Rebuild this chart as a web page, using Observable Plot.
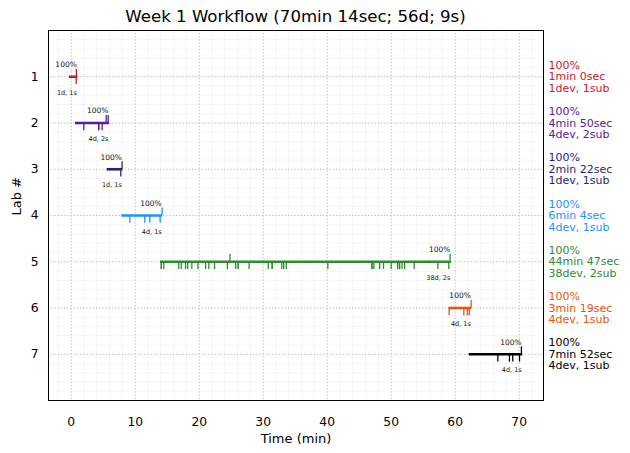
<!DOCTYPE html>
<html>
<head>
<meta charset="utf-8">
<script src="https://cdn.jsdelivr.net/npm/d3@7"></script>
<script src="https://cdn.jsdelivr.net/npm/@observablehq/plot@0.6"></script>
<style>
  html, body { margin: 0; padding: 0; background: #fff; }
  #wrap { width: 630px; height: 453px; font-family: "DejaVu Sans", sans-serif; }
  #title { height: 29px; width: 495px; margin-left: 48px; text-align: center; font-size: 16.6px; line-height: 34px; color: #000; white-space: nowrap; }
</style>
</head>
<body>
<div id="wrap">
  <div id="title">Week 1 Workflow (70min 14sec; 56d; 9s)</div>
  <div id="chart"></div>
</div>
<script>
// ---- data ----
const labs = [1, 2, 3, 4, 5, 6, 7];
const colors = ["#c8202a", "#55209a", "#1f247a", "#1e90ff", "#2e8b2e", "#e8560c", "#000000"];
const starts = [-0.27, 0.67, 5.62, 7.9, 13.95, 59.05, 62.2];
const ends = [1.03, 5.98, 8.07, 14.3, 59.4, 62.6, 70.55];
const devTimes = [
  [0.78],
  [1.97, 4.3, 4.3, 4.84],
  [7.75],
  [9.16, 11.5, 12.28, 13.9],
  [14.08, 14.08, 14.47, 16.8, 17.2, 17.86, 18.2, 18.85, 19.8, 21.0, 21.5, 22.4, 24.4,
   25.7, 26.1, 26.1, 27.8, 30.8, 31.4, 31.4, 32.9, 33.2, 33.6, 40.1, 47.0, 47.0, 47.3,
   48.2, 48.8, 50.0, 51.0, 51.3, 51.3, 51.7, 52.1, 53.6, 57.3, 59.0],
  [59.05, 61.35, 61.9, 62.2],
  [66.66, 68.48, 69.0, 70.05]
];
const subTimes = [
  [0.8],
  [5.47, 5.78],
  [7.95],
  [14.2],
  [24.8, 59.2],
  [62.5],
  [70.35]
];
const pctLabels = ["100%", "100%", "100%", "100%", "100%", "100%", "100%"];
const durLabels = ["1min 0sec", "4min 50sec", "2min 22sec", "6min 4sec", "44min 47sec", "3min 19sec", "7min 52sec"];
const countLabels = ["1dev, 1sub", "4dev, 2sub", "1dev, 1sub", "4dev, 1sub", "38dev, 2sub", "4dev, 1sub", "4dev, 1sub"];
const shortLabels = ["1d, 1s", "4d, 2s", "1d, 1s", "4d, 1s", "38d, 2s", "4d, 1s", "4d, 1s"];
const xTicks = [0, 10, 20, 30, 40, 50, 60, 70];
const yTicks = [1, 2, 3, 4, 5, 6, 7];
const xLabel = "Time (min)";
const yLabel = "Lab #";

// ---- tables built from the arrays ----
const segs = labs.map((lab, i) => ({
  lab, color: colors[i], start: starts[i], end: ends[i],
  pct: pctLabels[i], short: shortLabels[i],
  annot: `${pctLabels[i]}\n${durLabels[i]}\n${countLabels[i]}`
}));
const devs = labs.flatMap((lab, i) => devTimes[i].map(t => ({lab, t, color: colors[i]})));
const subs = labs.flatMap((lab, i) => subTimes[i].map(t => ({lab, t, color: colors[i]})));

const minorX = d3.range(-2, 74, 2);
const minorY = d3.range(1, 40).map(k => k / 5);

const chart = Plot.plot({
  width: 630,
  height: 424,
  marginLeft: 48,
  marginRight: 87,
  marginTop: 1,
  marginBottom: 53,
  style: {fontFamily: "DejaVu Sans, sans-serif", fontSize: "12.3px", color: "#000", background: "#fff", overflow: "visible"},
  x: {domain: [-3.55, 73.8], ticks: xTicks, tickFormat: d => String(d), tickSize: 0, tickPadding: 17, label: null},
  y: {domain: [0, 8], reverse: true, ticks: yTicks, tickFormat: d => String(d), tickSize: 0, tickPadding: 10, label: null},
  color: {type: "identity"},
  marks: [
    Plot.ruleX(minorX, {stroke: "#f4f4f4", strokeWidth: 0.8}),
    Plot.ruleY(minorY, {stroke: "#f4f4f4", strokeWidth: 0.8}),
    Plot.ruleX(xTicks, {stroke: "#b0b0b0", strokeWidth: 0.9, strokeDasharray: "1,2.2"}),
    Plot.ruleY(yTicks, {stroke: "#b0b0b0", strokeWidth: 0.9, strokeDasharray: "1,2.2"}),
    Plot.ruleY(segs, {y: "lab", x1: "start", x2: "end", stroke: "color", strokeWidth: 2.6}),
    Plot.ruleX(devs, {x: "t", y1: "lab", y2: d => d.lab + 0.17, stroke: "color", strokeWidth: 1.3}),
    Plot.ruleX(subs, {x: "t", y1: d => d.lab - 0.16, y2: "lab", stroke: "color", strokeWidth: 1.3}),
    Plot.text(segs, {x: "end", y: "lab", text: "pct", dy: -12, dx: -1, textAnchor: "end", fontSize: 7.5, fill: "#111"}),
    Plot.text(segs, {x: "end", y: "lab", text: "short", dy: 16, dx: -1, textAnchor: "end", fontSize: 6.5, fill: "#111"}),
    Plot.text(segs, {y: "lab", frameAnchor: "right", dx: 5, textAnchor: "start", text: "annot", fill: "color", fontSize: 11, lineHeight: 1.05}),
    Plot.frame({stroke: "#000", strokeWidth: 1}),
    Plot.text([xLabel], {frameAnchor: "bottom", dy: 42, fontSize: 13, fill: "#000"}),
    Plot.text([yLabel], {frameAnchor: "left", dx: -32, rotate: -90, fontSize: 13, fill: "#000"})
  ]
});
document.getElementById("chart").appendChild(chart);
</script>
</body>
</html>
